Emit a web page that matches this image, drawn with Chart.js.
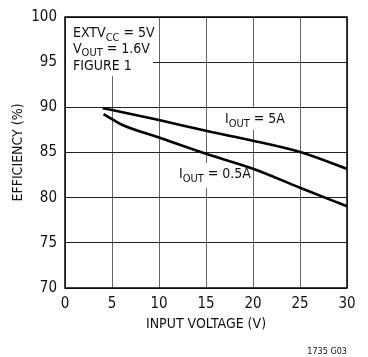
<!DOCTYPE html>
<html><head><meta charset="utf-8">
<script src="https://cdn.jsdelivr.net/npm/chart.js@4/dist/chart.umd.min.js"></script>
<style>html,body{margin:0;padding:0;background:#fff}#wrap{width:368px;height:357px}</style>
</head><body><div id="wrap"><canvas id="c" width="368" height="357"></canvas></div>
<script>
const xTicks = [0, 5, 10, 15, 20, 25, 30];
const yTicks = [70, 75, 80, 85, 90, 95, 100];
const vin5A = [4, 5, 10, 15, 20, 25, 30];
const eff5A = [89.9, 89.7, 88.6, 87.4, 86.3, 85.05, 83.2];
const vin05A = [4.1, 5, 6, 10, 15, 20, 25, 30];
const eff05A = [89.25, 88.7, 88.1, 86.65, 84.85, 83.2, 81.1, 79.05];
const xTitle = 'INPUT VOLTAGE (V)';
const yTitle = 'EFFICIENCY (%)';

const FONT = "'DejaVu Sans Condensed', 'Liberation Sans Narrow', sans-serif";

function pts(xs, ys) { return xs.map((x, i) => ({x: x, y: ys[i]})); }

function drawSub(ctx, x, y, parts) {
  let cx = x;
  parts.forEach(p => {
    if (p[1]) { ctx.font = "11px " + FONT; ctx.fillText(p[0], cx, y + 3.5); }
    else { ctx.font = "14px " + FONT; ctx.fillText(p[0], cx, y); }
    cx += ctx.measureText(p[0]).width;
  });
}

const annot = {
  id: 'annot',
  beforeDatasetsDraw(chart) {
    const ctx = chart.ctx, a = chart.chartArea;
    ctx.save();
    ctx.fillStyle = '#fff';
    ctx.fillRect(a.left + 1, a.top + 1, 87, 58);
    ctx.fillRect(222, 108, 62, 22);
    ctx.fillRect(176, 163, 73, 25);
    ctx.restore();
  },
  afterDatasetsDraw(chart) {
    const ctx = chart.ctx, a = chart.chartArea;
    ctx.save();
    ctx.strokeStyle = '#000';
    ctx.lineWidth = 1.5;
    ctx.strokeRect(a.left, a.top, a.right - a.left, a.bottom - a.top);
    ctx.fillStyle = '#111';
    ctx.textBaseline = 'alphabetic';
    ctx.textAlign = 'left';
    drawSub(ctx, a.left + 8, a.top + 20, [['EXTV', 0], ['CC', 1], [' = 5V', 0]]);
    drawSub(ctx, a.left + 8, a.top + 35.5, [['V', 0], ['OUT', 1], [' = 1.6V', 0]]);
    drawSub(ctx, a.left + 8, a.top + 53, [['FIGURE 1', 0]]);
    drawSub(ctx, 225, 123, [['I', 0], ['OUT', 1], [' = 5A', 0]]);
    drawSub(ctx, 179, 178, [['I', 0], ['OUT', 1], [' = 0.5A', 0]]);
    ctx.font = "9px " + FONT;
    ctx.textAlign = 'right';
    ctx.fillText('1735 G03', a.right, 354);
    ctx.restore();
  }
};

new Chart(document.getElementById('c'), {
  type: 'line',
  data: {
    datasets: [
      {data: pts(vin5A, eff5A), borderColor: '#000', borderWidth: 2.6, pointRadius: 0, fill: false, cubicInterpolationMode: 'monotone'},
      {data: pts(vin05A, eff05A), borderColor: '#000', borderWidth: 2.6, pointRadius: 0, fill: false, cubicInterpolationMode: 'monotone'}
    ]
  },
  options: {
    responsive: false,
    animation: false,
    devicePixelRatio: 1,
    layout: {padding: {left: 0, top: 8, right: 21, bottom: 24}},
    plugins: {legend: {display: false}, tooltip: {enabled: false}},
    scales: {
      x: {
        type: 'linear', min: xTicks[0], max: xTicks[xTicks.length - 1],
        afterBuildTicks: s => { s.ticks = xTicks.map(v => ({value: v})); },
        afterFit: s => { s.height = 45; },
        ticks: {color: '#111', font: {family: FONT, size: 15}, padding: 7, maxRotation: 0},
        grid: {color: '#666', lineWidth: 1, drawTicks: false},
        border: {display: false},
        title: {display: true, text: xTitle, color: '#111', font: {family: FONT, size: 14}, padding: 0}
      },
      y: {
        type: 'linear', min: yTicks[0], max: yTicks[yTicks.length - 1],
        afterBuildTicks: s => { s.ticks = yTicks.map(v => ({value: v})); },
        afterFit: s => { s.width = 65; },
        ticks: {color: '#111', font: {family: FONT, size: 15}, padding: 8},
        grid: {color: '#222', lineWidth: 1, drawTicks: false},
        border: {display: false},
        title: {display: true, text: yTitle, color: '#111', font: {family: FONT, size: 14}, padding: 10}
      }
    }
  },
  plugins: [annot]
});
</script></body></html>
